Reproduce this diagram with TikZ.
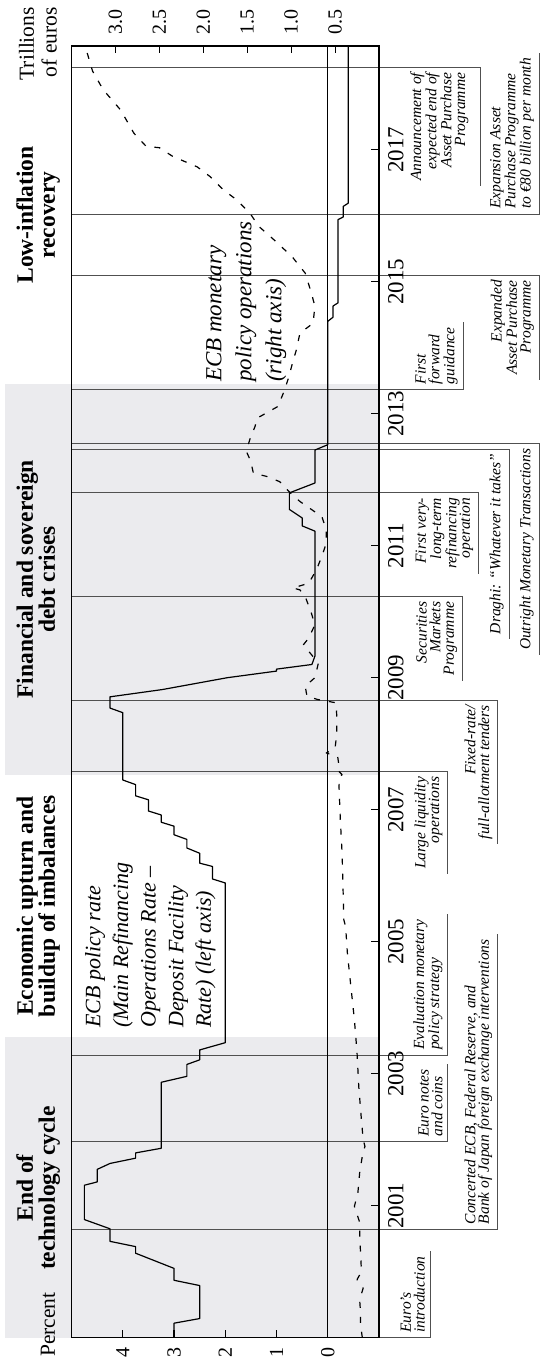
\documentclass[tikz,border=0pt]{standalone}
\usepackage{fontspec}
\setmainfont{Liberation Serif}
\usepackage{tikz}
\usetikzlibrary{calc,positioning}

\definecolor{eragray}{RGB}{235,235,238}
\definecolor{eventgray}{RGB}{80,80,80}

\begin{document}
\begin{tikzpicture}[x=1pt, y=1pt, rotate=90, transform shape]
 \coordinate (origo) at (0,0);
 \useasboundingbox (origo) rectangle (1365,540);

\tikzstyle{era}=[fill=eragray,draw=none]
\tikzstyle{eratitle}=[align=center,anchor=south,inner sep=0pt,text depth=5pt,font=\fontsize{23.5}{22}\selectfont\bfseries]
\tikzstyle{event}=[draw=eventgray,line width=0.8pt]
\tikzstyle{evtext}=[inner xsep=5pt,inner ysep=5pt,font=\fontsize{15.5}{13.7}\selectfont\itshape]
\tikzstyle{evleft}=[evtext,align=left,anchor=south west]
\tikzstyle{evright}=[evtext,align=right,anchor=south east]
\tikzstyle{ticklabel}=[inner sep=0pt,font=\fontsize{20}{20}\selectfont]
\tikzstyle{yearlabel}=[inner sep=0pt,anchor=north,font=\fontsize{23}{23}\selectfont]
\tikzstyle{serieslabel}=[inner sep=0pt,align=left,anchor=north west]

   %shade the eras
    \fill[era] (27.3,161) rectangle (327.6,535);
    \fill[era] (590.3,161) rectangle (981,535);

    \node (era1) [eratitle] at (177,480) {End of\\technology cycle};
    \node (era2) [eratitle] at (459,480) {Economic upturn and\\buildup of imbalances};
    \node (era3) [eratitle] at (785.6,480) {Financial and sovereign\\debt crises};
    \node (era4) [eratitle] at (1150,480) {Low-inflation\\recovery};

   %events: line down from the top of the plot, then under the text
    \node (intro) [evleft] at (27.3,110) {Euro’s\\introduction};
    \draw [event] (27.3,468.5) |- (intro.south east);
    \node (concert) [evleft] at (135.7,42.5) {Concerted ECB, Federal Reserve, and\\Bank of Japan foreign exchange interventions};
    \draw [event] (135.7,468.5) |- (concert.south east);
    \node (notes) [evleft] at (223.3,92.3) {Euro notes\\and coins};
    \draw [event] (223.3,468.5) |- (notes.south east);
    \node (review) [evleft] at (310,92.3) {Evaluation monetary\\policy strategy};
    \draw [event] (310,468.5) |- (review.south east);
    \node (liquidity) [evright] at (593.3,92.3) {Large liquidity\\operations};
    \draw [event] (593.3,468.5) |- (liquidity.south west);
    \node (fixed) [evright] at (665,42.4) {Fixed-rate/\\full-allotment tenders};
    \draw [event] (665,468.5) |- (fixed.south west);
    \node (smp) [evright] at (768.3,77.5) {Securities\\Markets\\Programme};
    \draw [event] (768.3,468.5) |- (smp.south west);
    \node (vltro) [evright] at (872.3,61.5) {First very-\\long-term\\refinancing\\operation};
    \draw [event] (872.3,468.5) |- (vltro.south west);
    \node (draghi) [evright] at (916,31) {Draghi: “Whatever it takes”};
    \draw [event] (916,468.5) |- (draghi.south west);
    \node (omt) [evright] at (921.7,1) {Outright Monetary Transactions};
    \draw [event] (921.7,468.5) |- (omt.south west);
    \node (guidance) [evleft] at (975.7,77) {First\\forward\\guidance};
    \draw [event] (975.7,468.5) |- (guidance.south east);
    \node (app) [evright] at (1090,1) {Expanded\\Asset Purchase\\Programme};
    \draw [event] (1090,468.5) |- (app.south west);
    \node (app80) [evleft] at (1151,1) {Expansion Asset\\Purchase Programme\\to €80 billion per month};
    \draw [event] (1151,468.5) |- (app80.south east);
    \node (append) [evright,inner ysep=12pt] at (1297.3,59.3) {Announcement of\\expected end of\\Asset Purchase\\Programme};
    \draw [event] (1297.3,468.5) |- (append.south west);

   %draw axes
    \draw [line width=1.1pt] (27.3,161) rectangle (1319,468.5);
    \draw [line width=1.1pt] (27.3,212.2) -- (1319,212.2);
    \foreach \p in {0,...,4}
      {\draw [line width=1.1pt] (27.3,212.2+51.25*\p) -- ++(8,0);
       \node [ticklabel,anchor=east] at (18,212.2+51.25*\p) {\p};}
    \foreach \v in {0.5,1.0,1.5,2.0,2.5,3.0}
      {\draw [line width=1.1pt] (1319,161+87.857*\v) -- ++(-7,0);
       \node [ticklabel,anchor=west] at (1330,161+87.857*\v) {\v};}
    \foreach \k in {2,4,...,18}
      {\draw [line width=1.1pt] (27.3+66*\k,161) -- ++(0,7.5);
       \pgfmathtruncatemacro\yr{1999+\k}
       \node [yearlabel] at (27.3+66*\k,152) {\yr};}

    \node (percent) [inner sep=0pt,anchor=base west,font=\fontsize{21.5}{22}\selectfont] at (8,485) {Percent};
    \node (trillions) [inner sep=0pt,align=right,anchor=south east,font=\fontsize{21.5}{22.6}\selectfont] at (1358,483) {Trillions\\of euros};

   %ECB monetary policy operations, right axis
    \begin{scope}[shift={(27.3,161)},x=66pt,y=87.857pt]
    \draw [line width=1.2pt,line join=round,dash pattern=on 6pt off 9pt] plot coordinates {
      (0,0.19) (0.2,0.21) (0.37,0.21) (0.58,0.22) (0.75,0.18) (0.88,0.25) (1.0,0.2) (1.3,0.21)
      (1.5,0.22) (1.75,0.22) (1.99,0.28) (2.2,0.24) (2.5,0.22) (2.75,0.19) (2.9,0.16) (3.0,0.18)
      (3.3,0.2) (3.8,0.23) (4.32,0.25) (4.82,0.28) (5.32,0.32) (5.83,0.36) (6.23,0.38) (6.33,0.4)
      (6.84,0.41) (7.34,0.42) (7.85,0.44) (8.35,0.455) (8.5,0.45) (8.53,0.42) (8.6,0.47) (8.71,0.46)
      (8.8,0.47) (8.86,0.6) (8.93,0.5) (9.16,0.48) (9.41,0.48) (9.62,0.49) (9.67,0.7) (9.72,0.82)
      (9.87,0.84) (10.0,0.73) (10.22,0.69) (10.4,0.8) (10.5,0.86) (10.6,0.8) (10.8,0.73) (10.98,0.77)
      (11.23,0.84) (11.33,0.9) (11.36,0.98) (11.43,0.8) (11.64,0.71) (11.84,0.65) (12.04,0.6) (12.24,0.6)
      (12.44,0.65) (12.55,0.77) (12.67,0.9) (12.8,1.01) (12.97,1.13) (13.05,1.28) (13.1,1.43) (13.28,1.46)
      (13.43,1.51) (13.61,1.47) (13.81,1.41) (13.93,1.39) (14.11,1.15) (14.34,1.08) (14.54,1.03) (14.74,0.99)
      (14.97,0.94) (15.22,0.9) (15.37,0.75) (15.63,0.73) (15.83,0.77) (16.13,0.84) (16.38,0.99) (16.64,1.2)
      (16.84,1.37) (17.04,1.47) (17.24,1.62) (17.39,1.77) (17.59,1.92) (17.74,2.07) (17.9,2.35) (18.03,2.5)
      (18.05,2.65) (18.25,2.79) (18.6,2.94) (18.91,3.14) (19.19,3.26) (19.46,3.32) (19.56,3.34)};
    \end{scope}

   %ECB policy rate, left axis
    \begin{scope}[shift={(27.3,212.2)},x=66pt,y=51.25pt]
    \draw [line width=1.2pt,line join=round] plot coordinates {
      (0,3) (0.22,3) (0.29,2.5) (0.79,2.5) (0.87,3) (1.05,3) (1.28,3.75) (1.38,3.75) (1.46,4.25)
      (1.65,4.25) (1.79,4.75) (2.31,4.75) (2.36,4.5) (2.55,4.5) (2.64,4.25) (2.72,3.75) (2.8,3.75)
      (2.87,3.25) (3.87,3.25) (3.96,2.75) (4.14,2.75) (4.21,2.5) (4.36,2.5) (4.47,2.0) (6.89,2.0)
      (6.95,2.25) (7.14,2.25) (7.19,2.5) (7.34,2.5) (7.42,2.75) (7.55,2.75) (7.62,3.0) (7.75,3.0)
      (7.81,3.25) (7.92,3.25) (7.98,3.5) (8.15,3.5) (8.21,3.75) (8.38,3.75) (8.45,4.0) (9.47,4.0)
      (9.54,4.25) (9.71,4.25) (9.82,3.23) (10.0,1.96) (10.1,1.0) (10.13,1.0) (10.2,0.31) (10.33,0.25)
      (12.22,0.25) (12.3,0.5) (12.42,0.5) (12.55,0.75) (12.8,0.75) (12.95,0.25) (13.45,0.25) (13.53,0)
      (15.4,0) (15.46,-0.1) (15.63,-0.1) (15.68,-0.2) (16.94,-0.2) (16.98,-0.3) (17.14,-0.3) (17.19,-0.4)
      (19.57,-0.4)};
    \end{scope}

    \node (ratelabel) [serieslabel,font=\fontsize{22}{27.6}\selectfont\itshape] at (337,455) {ECB policy rate\\(Main Refinancing\\Operations Rate –\\Deposit Facility\\Rate) (left axis)};
    \node (opslabel) [serieslabel,font=\fontsize{23}{30}\selectfont\itshape] at (983,334) {ECB monetary\\policy operations\\(right axis)};

\end{tikzpicture}
\end{document}
